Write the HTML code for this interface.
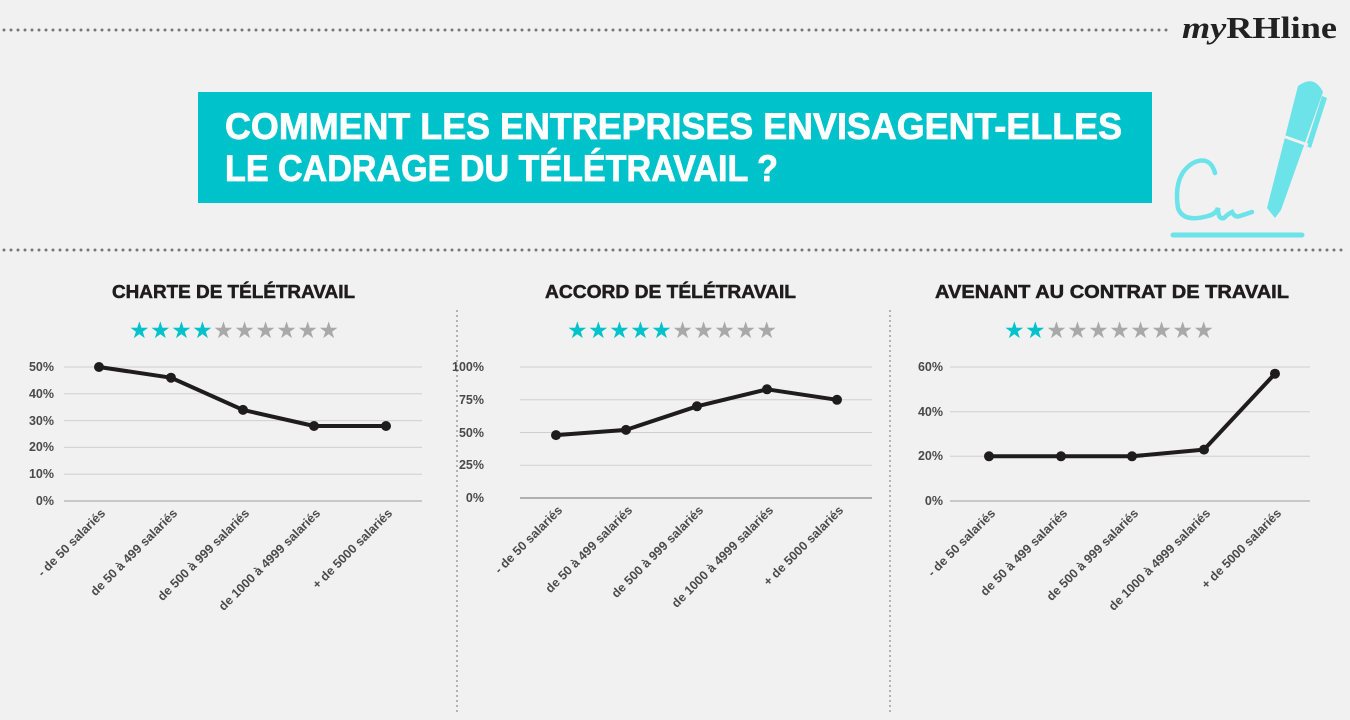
<!DOCTYPE html>
<html><head><meta charset="utf-8"><style>
html,body{margin:0;padding:0;background:#f1f1f1;}
svg{display:block;}
.t{font-family:"Liberation Sans",sans-serif;font-weight:bold;}
.yl{font-family:"Liberation Sans",sans-serif;font-weight:bold;font-size:12.5px;fill:#4a4a4a;text-anchor:end;}
.xl{font-family:"Liberation Sans",sans-serif;font-weight:bold;font-size:12.5px;fill:#4a4a4a;text-anchor:end;}
.g{stroke:#cfcfcf;stroke-width:1;}
.ln{fill:none;stroke:#1e1c1d;stroke-width:4;stroke-linejoin:round;}
.pt{fill:#1e1c1d;}
.st{font-family:"DejaVu Sans",sans-serif;font-size:23px;}
</style></head><body>
<svg width="1350" height="720" viewBox="0 0 1350 720">
<rect width="1350" height="720" fill="#f1f1f1"/>
<line x1="4" y1="30" x2="1168" y2="30" stroke="#777" stroke-width="3" stroke-dasharray="0 7" stroke-linecap="round"/>
<line x1="4" y1="250" x2="1348" y2="250" stroke="#777" stroke-width="3" stroke-dasharray="0 7" stroke-linecap="round"/>
<line x1="457" y1="310" x2="457" y2="712" stroke="#888" stroke-width="1.2" stroke-dasharray="2 3"/>
<line x1="890" y1="310" x2="890" y2="712" stroke="#888" stroke-width="1.2" stroke-dasharray="2 3"/>
<text x="1182" y="38" font-family="Liberation Serif,serif" font-size="31" font-weight="bold" fill="#222" textLength="155" lengthAdjust="spacingAndGlyphs"><tspan font-style="italic">my</tspan>RHline</text>
<rect x="198" y="92" width="954" height="111" fill="#00c2cb"/>
<text class="t" x="225" y="139" font-size="37" fill="#fff" stroke="#fff" stroke-width="0.8" textLength="897" lengthAdjust="spacingAndGlyphs">COMMENT LES ENTREPRISES ENVISAGENT-ELLES</text>
<text class="t" x="225" y="181" font-size="37" fill="#fff" stroke="#fff" stroke-width="0.8" textLength="553" lengthAdjust="spacingAndGlyphs">LE CADRAGE DU TÉLÉTRAVAIL ?</text>
<!-- pen -->
<g fill="#6be3e8" stroke="none">
<path d="M1298 86 q16 -12 25 6 l-42 118 l-6 8 l-8 -10 z"/>
<path d="M1322 96 l5 2 l-16 50 l-5 -2 z"/>
</g>
<line x1="1280" y1="135" x2="1308" y2="145" stroke="#f1f1f1" stroke-width="3"/>
<path d="M1215 173 q-5 -18 -22 -10 q-20 12 -15 45 q5 15 30 8 q8 -2 10 -8 q0 12 6 10 q4 -4 8 -6 q3 6 8 4 l12 -4" fill="none" stroke="#6be3e8" stroke-width="4.5" stroke-linecap="round"/>
<line x1="1173" y1="235" x2="1302" y2="235" stroke="#6be3e8" stroke-width="5" stroke-linecap="round"/>

<!-- Chart 1 -->
<text class="t" x="112" y="298" font-size="18" fill="#1e1c1d" stroke="#1e1c1d" stroke-width="0.5" textLength="243" lengthAdjust="spacingAndGlyphs">CHARTE DE TÉLÉTRAVAIL</text>
<text class="st" x="129" y="338" textLength="210"><tspan fill="#00c2cb">★★★★</tspan><tspan fill="#a9a9a9">★★★★★★</tspan></text>
<g class="g"><line x1="64" y1="367" x2="422" y2="367"/><line x1="64" y1="393.8" x2="422" y2="393.8"/><line x1="64" y1="420.6" x2="422" y2="420.6"/><line x1="64" y1="447.4" x2="422" y2="447.4"/><line x1="64" y1="474.2" x2="422" y2="474.2"/><line x1="64" y1="501" x2="422" y2="501" stroke="#bbb" stroke-width="1.5"/></g>
<g class="yl"><text x="54" y="371">50%</text><text x="54" y="398">40%</text><text x="54" y="425">30%</text><text x="54" y="451">20%</text><text x="54" y="478">10%</text><text x="54" y="505">0%</text></g>
<polyline class="ln" points="99,367 171,377.7 243,409.9 314,426 386,426"/>
<g class="pt"><circle cx="99" cy="367" r="5"/><circle cx="171" cy="377.7" r="5"/><circle cx="243" cy="409.9" r="5"/><circle cx="314" cy="426" r="5"/><circle cx="386" cy="426" r="5"/></g>
<g class="xl"><text transform="translate(106,514) rotate(-45)">- de 50 salariés</text><text transform="translate(178,514) rotate(-45)">de 50 à 499 salariés</text><text transform="translate(250,514) rotate(-45)">de 500 à 999 salariés</text><text transform="translate(321,514) rotate(-45)">de 1000 à 4999 salariés</text><text transform="translate(393,514) rotate(-45)">+ de 5000 salariés</text></g>

<!-- Chart 2 -->
<text class="t" x="545" y="298" font-size="18" fill="#1e1c1d" stroke="#1e1c1d" stroke-width="0.5" textLength="251" lengthAdjust="spacingAndGlyphs">ACCORD DE TÉLÉTRAVAIL</text>
<text class="st" x="567" y="338" textLength="210"><tspan fill="#00c2cb">★★★★★</tspan><tspan fill="#a9a9a9">★★★★★</tspan></text>
<g class="g"><line x1="520" y1="367" x2="872" y2="367"/><line x1="520" y1="399.75" x2="872" y2="399.75"/><line x1="520" y1="432.5" x2="872" y2="432.5"/><line x1="520" y1="465.25" x2="872" y2="465.25"/><line x1="520" y1="498" x2="872" y2="498" stroke="#888" stroke-width="1.2"/></g>
<g class="yl"><text x="484" y="371">100%</text><text x="484" y="404">75%</text><text x="484" y="437">50%</text><text x="484" y="469">25%</text><text x="484" y="502">0%</text></g>
<polyline class="ln" points="556,435.1 626,429.9 697,406.3 767,389.3 837,399.8"/>
<g class="pt"><circle cx="556" cy="435.1" r="5"/><circle cx="626" cy="429.9" r="5"/><circle cx="697" cy="406.3" r="5"/><circle cx="767" cy="389.3" r="5"/><circle cx="837" cy="399.8" r="5"/></g>
<g class="xl"><text transform="translate(563,511) rotate(-45)">- de 50 salariés</text><text transform="translate(633,511) rotate(-45)">de 50 à 499 salariés</text><text transform="translate(704,511) rotate(-45)">de 500 à 999 salariés</text><text transform="translate(774,511) rotate(-45)">de 1000 à 4999 salariés</text><text transform="translate(844,511) rotate(-45)">+ de 5000 salariés</text></g>

<!-- Chart 3 -->
<text class="t" x="935" y="298" font-size="18" fill="#1e1c1d" stroke="#1e1c1d" stroke-width="0.5" textLength="354" lengthAdjust="spacingAndGlyphs">AVENANT AU CONTRAT DE TRAVAIL</text>
<text class="st" x="1004" y="338" textLength="210"><tspan fill="#00c2cb">★★</tspan><tspan fill="#a9a9a9">★★★★★★★★</tspan></text>
<g class="g"><line x1="950" y1="367" x2="1310" y2="367"/><line x1="950" y1="411.7" x2="1310" y2="411.7"/><line x1="950" y1="456.3" x2="1310" y2="456.3"/><line x1="950" y1="501" x2="1310" y2="501" stroke="#bbb" stroke-width="1.5"/></g>
<g class="yl"><text x="943" y="371">60%</text><text x="943" y="416">40%</text><text x="943" y="460">20%</text><text x="943" y="505">0%</text></g>
<polyline class="ln" points="989,456.3 1061,456.3 1132,456.3 1204,449.6 1275,373.7"/>
<g class="pt"><circle cx="989" cy="456.3" r="5"/><circle cx="1061" cy="456.3" r="5"/><circle cx="1132" cy="456.3" r="5"/><circle cx="1204" cy="449.6" r="5"/><circle cx="1275" cy="373.7" r="5"/></g>
<g class="xl"><text transform="translate(996,514) rotate(-45)">- de 50 salariés</text><text transform="translate(1068,514) rotate(-45)">de 50 à 499 salariés</text><text transform="translate(1139,514) rotate(-45)">de 500 à 999 salariés</text><text transform="translate(1211,514) rotate(-45)">de 1000 à 4999 salariés</text><text transform="translate(1282,514) rotate(-45)">+ de 5000 salariés</text></g>
</svg>
</body></html>
